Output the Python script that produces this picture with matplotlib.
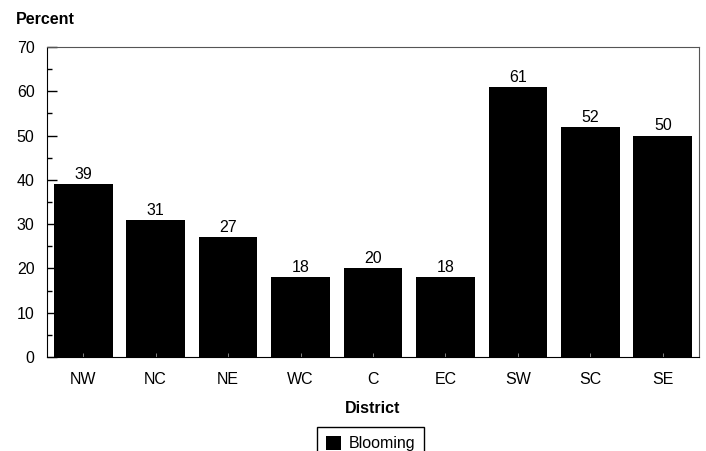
import matplotlib.pyplot as plt
from matplotlib.ticker import MultipleLocator

plt.rcParams['font.family'] = ['Liberation Sans', 'DejaVu Sans']

districts = ["NW", "NC", "NE", "WC", "C", "EC", "SW", "SC", "SE"]
blooming = [39, 31, 27, 18, 20, 18, 61, 52, 50]

fig = plt.figure(figsize=(7.06, 4.51), dpi=100)
ax = fig.add_axes([47 / 706, 94 / 451, 652 / 706, 310 / 451])

x = range(len(districts))
bars = ax.bar(x, blooming, width=0.81, color="black", label="Blooming")
for xi, v in zip(x, blooming):
    ax.annotate(str(v), (xi, v), textcoords="offset points", xytext=(0, 1.5),
                ha="center", va="bottom", fontsize=11.5)

ax.set_xlim(-0.5, len(districts) - 0.5)
ax.set_ylim(0, 70)
ax.set_xticks(list(x))
ax.set_xticklabels(districts)
ax.yaxis.set_major_locator(MultipleLocator(10))
ax.yaxis.set_minor_locator(MultipleLocator(5))
ax.tick_params(axis="y", which="major", direction="in", length=7, width=1, labelsize=11.5, pad=9)
ax.tick_params(axis="y", which="minor", direction="in", length=3.5, width=1)
ax.tick_params(axis="x", direction="in", length=3, width=0.6, colors="#999999", labelcolor="black",
               labelsize=11.5, pad=11)
for s in ax.spines.values():
    s.set_color("#555555")
ax.spines["left"].set_color("black")
ax.spines["bottom"].set_color("black")

ax.set_xlabel("District", fontweight="bold", fontsize=11.5, labelpad=10)
fig.text(16 / 706, 1 - 19 / 451, "Percent", fontweight="bold", fontsize=11.5, ha="left", va="center")

fig.legend(loc="upper left", bbox_to_anchor=(317 / 706, 1 - 427 / 451), fontsize=11.5,
           frameon=True, fancybox=False, edgecolor="black", framealpha=1, borderaxespad=0,
           handlelength=0.95, handleheight=0.95, borderpad=0.55, handletextpad=0.5)

fig.savefig("out.png", dpi=100)
